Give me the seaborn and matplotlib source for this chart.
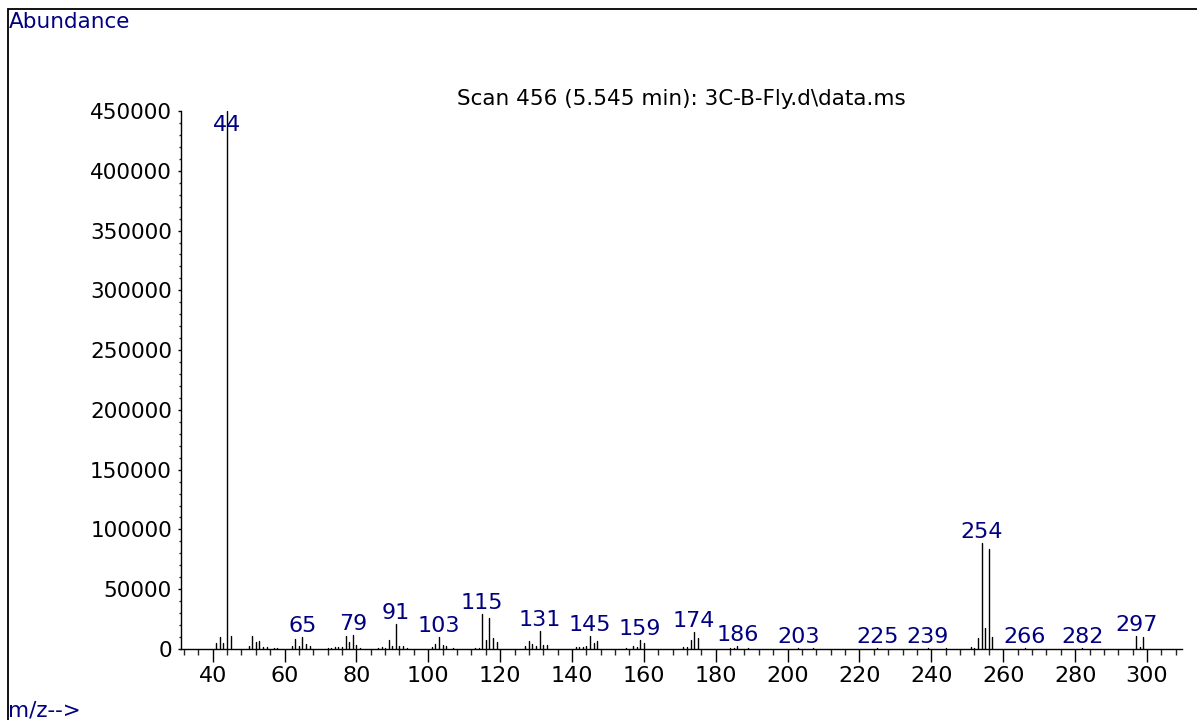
import numpy as np
import pandas as pd
import matplotlib
matplotlib.use("Agg")
import matplotlib.pyplot as plt
import seaborn as sns
from matplotlib.ticker import MultipleLocator
from matplotlib.patches import Rectangle

# ---- data ----
mz = [41, 42, 43, 44, 45, 50, 51, 52, 53, 54, 55, 57, 58,
      62, 63, 64, 65, 66, 67, 72, 73, 74, 75, 76, 77, 78, 79, 80, 81,
      86, 87, 88, 89, 90, 91, 92, 93, 94,
      101, 102, 103, 104, 105, 107, 113, 114, 115, 116, 117, 118, 119,
      127, 128, 129, 130, 131, 132, 133,
      141, 142, 143, 144, 145, 146, 147, 155, 157, 158, 159, 160,
      171, 172, 173, 174, 175, 184, 185, 186, 189, 197, 203, 207, 215,
      225, 228, 239, 244, 251, 252, 253, 254, 255, 256, 257,
      266, 282, 297, 298, 299]
abundance = [4700, 10300, 4700, 450000, 11100, 2800, 11100, 5600, 7000, 1400, 1700, 1000, 1000,
             2500, 8700, 2800, 10300, 4200, 2800, 800, 1000, 1500, 1800, 1800, 10900, 6100, 11400, 3600, 800,
             1200, 1500, 1000, 7800, 2800, 20900, 2800, 2500, 1000,
             1500, 4200, 10000, 3300, 2500, 1000, 800, 1200, 29000, 7500, 25900, 9200, 5800,
             2800, 6400, 4200, 2200, 15300, 3600, 3300,
             1700, 1400, 1400, 2800, 11100, 5000, 6400, 1000, 2500, 1900, 7800, 4700,
             1900, 1900, 7500, 14500, 9200, 800, 1200, 2500, 500, 400, 1000, 500, 400,
             600, 400, 600, 500, 1400, 1100, 9200, 88300, 17800, 83300, 9800,
             500, 500, 10600, 1400, 10300]
label_mz = [44, 65, 79, 91, 103, 115, 131, 145, 159, 174, 186, 203,
            225, 239, 254, 266, 282, 297]
x_major = list(range(40, 301, 20))
y_major = list(range(0, 450001, 50000))
title = "Scan 456 (5.545 min): 3C-B-Fly.d\\data.ms"
y_title = "Abundance"
x_title = "m/z-->"

NAVY = "#000080"

sns.set_theme(style="white")
plt.rcParams["font.family"] = ["DejaVu Sans"]

# long-format table: each peak is a vertical stick from 0 to its abundance
df = pd.DataFrame({
    "mz": np.repeat(mz, 2),
    "abundance": np.column_stack([np.zeros(len(abundance)), abundance]).ravel(),
    "peak": np.repeat(np.arange(len(mz)), 2),
})

fig = plt.figure(figsize=(11.97, 7.2), dpi=100)
fig.patch.set_facecolor("white")
ax = fig.add_axes([181 / 1197, 71 / 720, (1181.5 - 181) / 1197, (649 - 111) / 720])

sns.lineplot(data=df, x="mz", y="abundance", units="peak", estimator=None,
             color="black", lw=1.0, ax=ax, legend=False, sort=False)

ax.set_xlim(31.2, 309.6)
ax.set_ylim(0, 450000)
ax.set_xlabel("")
ax.set_ylabel("")

ax.set_xticks(x_major)
ax.set_xticklabels([str(v) for v in x_major])
ax.xaxis.set_minor_locator(MultipleLocator(4))
ax.set_yticks(y_major)
ax.set_yticklabels([str(v) for v in y_major])
ax.yaxis.set_minor_locator(MultipleLocator(10000))

ax.tick_params(axis="x", which="major", direction="out", length=9.4, width=1,
               pad=3.2, labelsize=16, colors="black", bottom=True)
ax.tick_params(axis="x", which="minor", direction="out", length=4.3, width=1, bottom=True)
ax.tick_params(axis="y", which="major", direction="out", length=2.5, width=1,
               pad=4, labelsize=15.5, colors="black", left=True)
ax.tick_params(axis="y", which="minor", direction="out", length=1.8, width=1, left=True)

for s in ["top", "right"]:
    ax.spines[s].set_visible(False)
for s in ["left", "bottom"]:
    ax.spines[s].set_color("black")
    ax.spines[s].set_linewidth(1)
ax.set_facecolor("white")
ax.grid(False)

ymax = ax.get_ylim()[1]
for m in label_mz:
    v = abundance[mz.index(m)]
    if v >= 0.95 * ymax:
        ax.annotate(str(m), (m, ymax), xytext=(0, -3.0), textcoords="offset points",
                    ha="center", va="top", color=NAVY, fontsize=16)
    else:
        ax.annotate(str(m), (m, v), xytext=(0, 3.6), textcoords="offset points",
                    ha="center", va="baseline", color=NAVY, fontsize=16)

ax.set_title(title, fontsize=15.5, color="black", pad=4)

fig.text(9 / 1197, 1 - 22 / 720, y_title, ha="left", va="center",
         color=NAVY, fontsize=15.5)
fig.text(8 / 1197, 1 - 711 / 720, x_title, ha="left", va="center",
         color=NAVY, fontsize=15.5)

# outer frame (left and top edges visible)
fig.patches.append(Rectangle((8 / 1197, -0.05), 1.2, 0.05 + (1 - 9 / 720),
                             transform=fig.transFigure, fill=False,
                             edgecolor="black", lw=1.3, clip_on=False))

fig.savefig("out.png", dpi=100, facecolor="white")
